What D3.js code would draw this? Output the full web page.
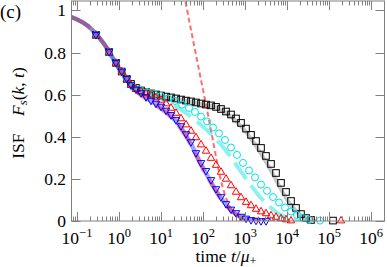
<!DOCTYPE html>
<html><head><meta charset="utf-8">
<script src="https://cdn.jsdelivr.net/npm/d3@7"></script>
<style>body{margin:0;background:#fff}svg{display:block}</style>
</head><body><svg id="c" width="387" height="267"></svg>
<script>
// ---- tick labels ----
const xTickExps = [-1, 0, 1, 2, 3, 4, 5, 6];
const yTicks = [0, 0.2, 0.4, 0.6, 0.8, 1];
const yTickLabels = ["0", "0.2", "0.4", "0.6", "0.8", "1"];

// ---- simulation markers (t, F_s) ----
const sqT = [0.283,0.578,0.849,1.16,1.53,1.93,2.54,3.34,4.39,5.78,7.60,10.0,13.2,17.3,22.8,29.9,39.4,51.8,68.1,89.6,118,155,204,268,353,464,611,803,1057,1390,1829,2405,3162,4159,5470,7195,9464,12450,16370,21530,28320,37250,124500];
const sqF = [0.884,0.803,0.751,0.710,0.675,0.651,0.632,0.620,0.613,0.606,0.601,0.596,0.591,0.587,0.582,0.577,0.572,0.568,0.563,0.558,0.553,0.549,0.542,0.532,0.520,0.506,0.487,0.466,0.439,0.409,0.380,0.347,0.309,0.271,0.228,0.181,0.138,0.095,0.062,0.033,0.014,0.005,0.002];

const ciT = [0.283,0.578,0.849,1.16,1.53,2.15,3.16,4.64,6.81,10,14.7,21.5,31.6,46.4,64.5,89.6,125,173,240,334,464,645,896,1245,1730,2405,3340,4640,6450,8960,12450,17300,24050,33420,61050];
const ciF = [0.884,0.803,0.751,0.710,0.675,0.637,0.625,0.613,0.603,0.594,0.582,0.570,0.553,0.537,0.518,0.496,0.473,0.444,0.416,0.385,0.349,0.314,0.276,0.240,0.207,0.173,0.143,0.114,0.088,0.064,0.045,0.029,0.014,0.005,0.002];

const upT = [0.283,0.578,0.849,1.16,1.53,1.93,2.54,3.34,4.39,5.78,7.60,10.0,13.2,17.3,22.8,29.9,39.4,51.8,68.1,89.6,118,155,204,268,353,464,611,803,1057,1390,1829,2405,3162,4159,5470,7195,9464,12450,193200];
const upF = [0.884,0.803,0.751,0.710,0.675,0.646,0.627,0.615,0.606,0.596,0.587,0.575,0.558,0.537,0.513,0.487,0.458,0.428,0.397,0.363,0.333,0.299,0.266,0.233,0.200,0.169,0.138,0.112,0.090,0.074,0.057,0.045,0.036,0.026,0.019,0.012,0.007,0.002,0.002];

const dnT = [0.283,0.578,0.849,1.16,1.53,1.93,2.54,3.34,4.39,5.78,7.60,10.0,13.2,17.3,22.8,29.9,39.4,51.8,68.1,89.6,118,155,204,268,353,464,611,803,1057,1390,1829,2405,3162];
const dnF = [0.884,0.803,0.751,0.710,0.675,0.646,0.625,0.608,0.589,0.572,0.558,0.544,0.525,0.504,0.480,0.451,0.413,0.375,0.323,0.276,0.238,0.195,0.152,0.114,0.081,0.055,0.038,0.021,0.012,0.005,0.002,0,0];

// ---- theory curves (t, F_s) ----
const blueLineT = [0.074,0.183,0.44,1.06,1.93,3.34,5.78,10,17.3,29.9,51.8,89.6,155,268,464,803,1390,2405];
const blueLineF = [0.969,0.926,0.841,0.717,0.646,0.604,0.570,0.539,0.499,0.444,0.366,0.271,0.185,0.109,0.052,0.019,0.002,0];
const redLineT = [0.074,0.183,0.44,1.06,1.93,3.34,5.78,10,17.3,29.9,51.8,89.6,155,268,464,803,1390,2405];
const redLineF = [0.969,0.926,0.841,0.717,0.640,0.598,0.563,0.532,0.492,0.437,0.360,0.265,0.180,0.105,0.050,0.018,0.002,0];
const cyanLineT = [0.074,0.183,0.44,1.06,1.93,3.16,5.48,9.47,16.4,28.3,49,84.8,147,254,439,760,1316,2280,3940,6820,11800,20450];
const cyanLineF = [0.969,0.926,0.841,0.717,0.646,0.622,0.603,0.584,0.561,0.532,0.499,0.461,0.418,0.368,0.309,0.242,0.176,0.114,0.067,0.031,0.0095,0.001];
const grayLineT = [0.074,0.183,0.44,1.06,1.93,3.34,10,29.9,89.6,204,353,611,1057,1829,3162,5470,9464,16370,28320,48990];
const grayLineF = [0.969,0.926,0.841,0.717,0.646,0.618,0.594,0.575,0.556,0.539,0.513,0.475,0.423,0.356,0.280,0.195,0.109,0.048,0.0095,0];
const expT = [20,31.6,37.3,46.4,57.8,72,89.6,112,139,173,215,268,334,416,518,681,1000,1730,5000];
const expF = [1.3,1.088,1.050,0.955,0.860,0.765,0.670,0.575,0.480,0.380,0.280,0.190,0.124,0.076,0.043,0.019,0.005,0,0];

const svg = d3.select("#c").style("font-family", "Liberation Serif");
const L = 71.5, R = 384.5, T = 1, B = 221;
const x = d3.scaleLog().domain([Math.pow(10, -1.131), Math.pow(10, 6.321)]).range([L, R]);
const y = d3.scaleLinear().domain([0, 1.045]).range([B, T]);
const axisCol = "#808080";

svg.append("defs").append("clipPath").attr("id", "clip")
  .append("rect").attr("x", L).attr("y", T).attr("width", R - L).attr("height", B - T);

const line = d3.line().x(d => x(d[0])).y(d => y(d[1])).curve(d3.curveMonotoneX);
const zip = (a, b) => a.map((v, i) => [v, b[i]]);
const gl = svg.append("g").attr("clip-path", "url(#clip)");

function drawLine(T_, F_, color, width, opacity, dash) {
  gl.append("path").attr("d", line(zip(T_, F_))).attr("fill", "none")
    .attr("stroke", color).attr("stroke-width", width).attr("stroke-opacity", opacity)
    .attr("stroke-dasharray", dash || null);
}
drawLine(grayLineT, grayLineF, "#000", 4, 0.22);
drawLine(cyanLineT, cyanLineF, "#00e0e0", 4, 0.45, "20,8");
drawLine(blueLineT, blueLineF, "#3030ff", 4.5, 0.45);
drawLine(redLineT, redLineF, "#ff2020", 4, 0.4, "22,9");
drawLine(expT, expF, "#ff5555", 2, 0.85, "5,3");

// ---- markers ----
const gm = svg.append("g").attr("fill", "none").attr("stroke-width", 1);
gm.selectAll("rect.sq").data(zip(sqT, sqF)).join("rect").attr("class", "sq")
  .attr("x", d => x(d[0]) - 3.3).attr("y", d => y(d[1]) - 3.3)
  .attr("width", 6.6).attr("height", 6.6).attr("stroke", "#000");
gm.selectAll("circle.ci").data(zip(ciT, ciF)).join("circle").attr("class", "ci")
  .attr("cx", d => x(d[0])).attr("cy", d => y(d[1])).attr("r", 3.5).attr("stroke", "#00e5e5");
gm.selectAll("path.up").data(zip(upT, upF)).join("path").attr("class", "up")
  .attr("transform", d => `translate(${x(d[0])},${y(d[1])})`)
  .attr("d", "M0,-4.2L3.7,2.3L-3.7,2.3Z").attr("stroke", "#ff0000");
gm.selectAll("path.dn").data(zip(dnT, dnF)).join("path").attr("class", "dn")
  .attr("transform", d => `translate(${x(d[0])},${y(d[1])})`)
  .attr("d", "M0,4.2L3.7,-2.3L-3.7,-2.3Z").attr("stroke", "#0000ff");

// ---- frame & ticks ----
const ga = svg.append("g").attr("stroke", axisCol).attr("stroke-width", 1);
ga.append("rect").attr("x", L).attr("y", T).attr("width", R - L).attr("height", B - T).attr("fill", "none");
const minors = [];
for (let e = -2; e <= 6; e++) for (let m = 2; m <= 9; m++) {
  const v = m * Math.pow(10, e);
  if (v > x.domain()[0] && v < x.domain()[1]) minors.push(v);
}
const px = v => Math.round(x(v)) + 0.5;
minors.forEach(v => {
  ga.append("line").attr("x1", px(v)).attr("x2", px(v)).attr("y1", B).attr("y2", B - 4.5);
  ga.append("line").attr("x1", px(v)).attr("x2", px(v)).attr("y1", T).attr("y2", T + 4.5);
});
xTickExps.forEach(e => {
  const v = Math.pow(10, e);
  ga.append("line").attr("x1", px(v)).attr("x2", px(v)).attr("y1", B).attr("y2", B - 9);
  ga.append("line").attr("x1", px(v)).attr("x2", px(v)).attr("y1", T).attr("y2", T + 9);
});
yTicks.forEach(v => {
  const yy = Math.round(y(v)) + 0.5;
  ga.append("line").attr("x1", L).attr("x2", L + 9).attr("y1", yy).attr("y2", yy);
  ga.append("line").attr("x1", R).attr("x2", R - 9).attr("y1", yy).attr("y2", yy);
});

// ---- tick labels ----
const tx = () => svg.append("text").style("font-family", "Liberation Serif").attr("fill", "#000");
yTicks.forEach((v, i) => {
  tx().attr("x", 66).attr("y", y(v) + 6).attr("text-anchor", "end")
    .attr("font-size", 17.5).text(yTickLabels[i]);
});
xTickExps.forEach(e => {
  const t = tx().attr("x", x(Math.pow(10, e))).attr("y", 243.5).attr("text-anchor", "middle").attr("font-size", 17.5);
  t.append("tspan").text("10");
  t.append("tspan").attr("dy", -7).attr("font-size", 12.5).text(e < 0 ? "\u2212" + (-e) : String(e));
});

// ---- titles ----
tx().attr("x", 0).attr("y", 18).attr("font-size", 19).text("(c)");
const yt = tx().attr("transform", "translate(24,113) rotate(-90)")
  .attr("text-anchor", "middle").attr("font-size", 17.5);
yt.append("tspan").text("ISF\u2003");
yt.append("tspan").attr("font-style", "italic").text("F");
yt.append("tspan").attr("font-style", "italic").attr("font-size", 12.5).attr("dy", 3).text("s");
yt.append("tspan").attr("dy", -3).text("(");
yt.append("tspan").attr("font-style", "italic").text("k");
yt.append("tspan").text(", ");
yt.append("tspan").attr("font-style", "italic").text("t");
yt.append("tspan").text(")");

const xt = tx().attr("x", 226).attr("y", 262).attr("text-anchor", "middle").attr("font-size", 17.5);
xt.append("tspan").text("time ");
xt.append("tspan").attr("font-style", "italic").text("t");
xt.append("tspan").text("/");
xt.append("tspan").attr("font-style", "italic").text("\u03bc");
xt.append("tspan").attr("font-size", 12.5).attr("dy", 3).text("+");
</script>
</body></html>
